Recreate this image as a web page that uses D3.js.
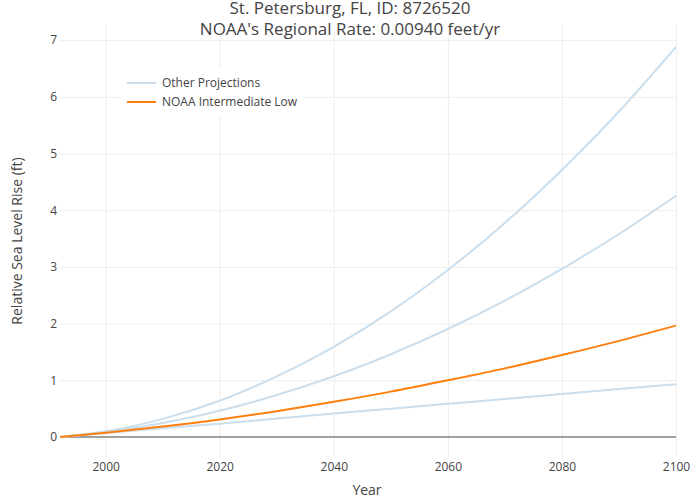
<!DOCTYPE html>
<html>
<head>
<meta charset="utf-8">
<script src="https://cdnjs.cloudflare.com/ajax/libs/d3/7.8.5/d3.min.js"></script>
<style>
  html, body { margin: 0; padding: 0; background: #fff; }
  svg { display: block; font-family: "Open Sans", "Noto Sans", sans-serif; }
</style>
</head>
<body>
<svg id="chart" width="700" height="500"></svg>
<script>
// ---- Data ----
const years = [1992, 2000, 2010, 2020, 2030, 2040, 2050, 2060, 2070, 2080, 2090, 2100];
const lowValues =          [0, 0.07, 0.155, 0.235, 0.325, 0.415, 0.50, 0.585, 0.67, 0.76, 0.845, 0.93];
const intermediateLow =    [0, 0.075, 0.185, 0.31, 0.455, 0.62, 0.80, 1.00, 1.21, 1.445, 1.695, 1.965];
const intermediateHigh =   [0, 0.087, 0.247, 0.462, 0.74, 1.07, 1.46, 1.905, 2.405, 2.965, 3.58, 4.255];
const highValues =         [0, 0.10, 0.32, 0.64, 1.07, 1.59, 2.215, 2.945, 3.775, 4.71, 5.74, 6.88];
const otherSeries = [lowValues, intermediateHigh, highValues];
const xTicks = [2000, 2020, 2040, 2060, 2080, 2100];
const yTicks = [0, 1, 2, 3, 4, 5, 6, 7];
const legendLabels = ["Other Projections", "NOAA Intermediate Low"];
const titleLines = ["St. Petersburg, FL, ID: 8726520", "NOAA's Regional Rate: 0.00940 feet/yr"];

// ---- Layout ----
const svg = d3.select("#chart");
const plot = { left: 60, right: 676, top: 25, bottom: 457 };
const textColor = "#444";
const otherColor = "#cadeed";
const mainColor = "#ff7f0e";

const x = d3.scaleLinear().domain([1992, 2100]).range([plot.left, plot.right]);
const y = d3.scaleLinear().domain([-0.353, 7.266]).range([plot.bottom, plot.top]);

// Gridlines via axes
const xGrid = d3.axisBottom(x).tickValues(xTicks).tickSize(-(plot.bottom - plot.top)).tickFormat("");
svg.append("g")
  .attr("transform", `translate(0,${plot.bottom})`)
  .call(xGrid)
  .call(g => g.select(".domain").remove())
  .call(g => g.selectAll("line").attr("stroke", "#eeeeee").attr("stroke-width", 1));

const yGrid = d3.axisLeft(y).tickValues(yTicks.filter(v => v !== 0)).tickSize(-(plot.right - plot.left)).tickFormat("");
svg.append("g")
  .attr("transform", `translate(${plot.left},0)`)
  .call(yGrid)
  .call(g => g.select(".domain").remove())
  .call(g => g.selectAll("line").attr("stroke", "#eeeeee").attr("stroke-width", 1));

// Tick labels
const xAxis = d3.axisBottom(x).tickValues(xTicks).tickSize(0).tickPadding(0).tickFormat(d3.format("d"));
svg.append("g")
  .attr("transform", `translate(0,${plot.bottom})`)
  .call(xAxis)
  .call(g => g.select(".domain").remove())
  .call(g => g.selectAll("text")
     .attr("fill", textColor).attr("font-size", 12)
     .attr("font-family", "'Open Sans', sans-serif")
     .attr("dy", null).attr("y", 14));

const yAxis = d3.axisLeft(y).tickValues(yTicks).tickSize(0).tickPadding(3).tickFormat(d3.format("d"));
svg.append("g")
  .attr("transform", `translate(${plot.left},0)`)
  .call(yAxis)
  .call(g => g.select(".domain").remove())
  .call(g => g.selectAll("text")
     .attr("fill", textColor).attr("font-size", 12)
     .attr("font-family", "'Open Sans', sans-serif"));

// Zero line
svg.append("line")
  .attr("x1", plot.left).attr("x2", plot.right)
  .attr("y1", y(0)).attr("y2", y(0))
  .attr("stroke", "#444").attr("stroke-width", 1);

// Lines
const line = d3.line()
  .x((d, i) => x(years[i]))
  .y(d => y(d))
  .curve(d3.curveMonotoneX);

svg.append("clipPath").attr("id", "clip")
  .append("rect").attr("x", plot.left).attr("y", plot.top)
  .attr("width", plot.right - plot.left).attr("height", plot.bottom - plot.top);

const lines = svg.append("g").attr("clip-path", "url(#clip)");
otherSeries.forEach(s => {
  lines.append("path").datum(s)
    .attr("d", line).attr("fill", "none")
    .attr("stroke", otherColor).attr("stroke-width", 2);
});
lines.append("path").datum(intermediateLow)
  .attr("d", line).attr("fill", "none")
  .attr("stroke", mainColor).attr("stroke-width", 2);

// Legend
const legend = svg.append("g");
legend.append("rect")
  .attr("x", 120).attr("y", 68).attr("width", 183).attr("height", 47)
  .attr("fill", "#fff");
const legendColors = [otherColor, mainColor];
legendLabels.forEach((lab, i) => {
  const ly = 83 + i * 19;
  legend.append("line")
    .attr("x1", 127).attr("x2", 156).attr("y1", ly).attr("y2", ly)
    .attr("stroke", legendColors[i]).attr("stroke-width", 2);
  legend.append("text")
    .attr("x", 162).attr("y", ly + 4.3)
    .attr("font-size", 12).attr("fill", textColor)
    .text(lab);
});

// Titles
const title = svg.append("text")
  .attr("text-anchor", "middle").attr("fill", textColor).attr("font-size", 17);
titleLines.forEach((t, i) => {
  title.append("tspan").attr("x", 350).attr("y", 14 + i * 20.5).text(t);
});

svg.append("text")
  .attr("x", (plot.left + plot.right) / 2 - 1).attr("y", 495)
  .attr("text-anchor", "middle").attr("fill", textColor).attr("font-size", 14)
  .text("Year");

svg.append("text")
  .attr("transform", `translate(22,${(plot.top + plot.bottom) / 2}) rotate(-90)`)
  .attr("text-anchor", "middle").attr("fill", textColor).attr("font-size", 14)
  .text("Relative Sea Level Rise (ft)");
</script>
</body>
</html>
